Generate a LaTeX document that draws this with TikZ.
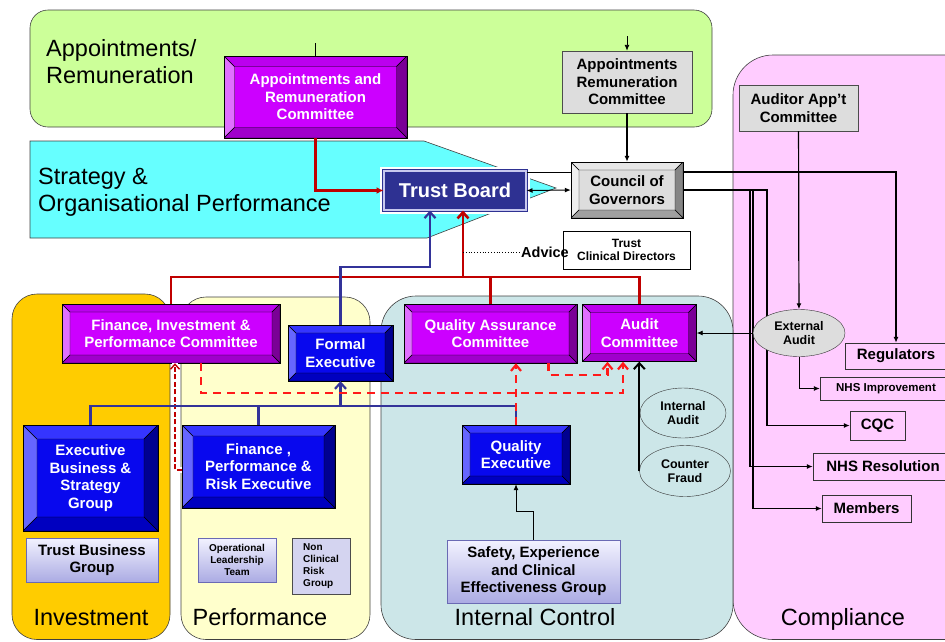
\documentclass[tikz,border=0pt]{standalone}
\usepackage{fontspec}
\setmainfont{Liberation Sans}
\usetikzlibrary{arrows.meta,positioning,shapes.geometric}
\definecolor{nhsgreen}{HTML}{CCFF99}
\definecolor{nhscyan}{HTML}{66FFFF}
\definecolor{nhspink}{HTML}{FFCCFF}
\definecolor{nhsorange}{HTML}{FFCC00}
\definecolor{nhscream}{HTML}{FFFFCC}
\definecolor{nhsteal}{HTML}{CCE6E8}
\definecolor{magface}{HTML}{CC00FF}
\definecolor{magleft}{HTML}{E070FF}
\definecolor{magtop}{HTML}{BB00EE}
\definecolor{magright}{HTML}{7A0096}
\definecolor{magbot}{HTML}{A000CC}
\definecolor{blface}{HTML}{0808EE}
\definecolor{blleft}{HTML}{6666FF}
\definecolor{bltop}{HTML}{3535FF}
\definecolor{blright}{HTML}{000090}
\definecolor{blbot}{HTML}{0000C0}
\definecolor{gyface}{HTML}{DDDDDD}
\definecolor{gyleft}{HTML}{EFEFEF}
\definecolor{gytop}{HTML}{E6E6E6}
\definecolor{gyright}{HTML}{858585}
\definecolor{gybot}{HTML}{A0A0A0}
\definecolor{tbnavy}{HTML}{2E3192}
\definecolor{tbring}{HTML}{C8C8EE}
\definecolor{lilactop}{HTML}{F2F2FF}
\definecolor{lilacbot}{HTML}{ABABE3}
\definecolor{lilacline}{HTML}{6A6AB4}
\definecolor{ncrfill}{HTML}{D4D4F0}
\definecolor{rline}{HTML}{C00000}
\definecolor{rdash}{HTML}{FF1A1A}
\definecolor{bline}{HTML}{333399}

\begin{document}
\begin{tikzpicture}[x=1pt,y=-1pt,
  every node/.style={inner sep=0pt,align=center,font=\bfseries\fontsize{15}{17.5}\selectfont},
  panel/.style={draw=black!75,line width=0.6pt},
  lbl/.style={font=\fontsize{23.5}{27}\selectfont},
  bev/.store in=\bevw, bev=8pt,
  bevel/.style n args={5}{draw=black,fill=#1,text=white,path picture={
      \coordinate (q1) at (path picture bounding box.south west);
      \coordinate (q2) at (path picture bounding box.north west);
      \coordinate (q3) at (path picture bounding box.north east);
      \coordinate (q4) at (path picture bounding box.south east);
      \coordinate (r1) at ([xshift=\bevw,yshift=\bevw]q1);
      \coordinate (r2) at ([xshift=\bevw,yshift=-\bevw]q2);
      \coordinate (r3) at ([xshift=-\bevw,yshift=-\bevw]q3);
      \coordinate (r4) at ([xshift=-\bevw,yshift=\bevw]q4);
      \filldraw[fill=#2,draw=black,line width=0.4pt] (q1) -- (q2) -- (r2) -- (r1) -- cycle;
      \filldraw[fill=#3,draw=black,line width=0.4pt] (q2) -- (q3) -- (r3) -- (r2) -- cycle;
      \filldraw[fill=#4,draw=black,line width=0.4pt] (q3) -- (q4) -- (r4) -- (r3) -- cycle;
      \filldraw[fill=#5,draw=black,line width=0.4pt] (q4) -- (q1) -- (r1) -- (r4) -- cycle;
    }},
  purplebox/.style={bevel={magface}{magleft}{magtop}{magright}{magbot}},
  bluebox/.style={bevel={blface}{blleft}{bltop}{blright}{blbot}},
  greybev/.style={bevel={gyface}{gyleft}{gytop}{gyright}{gybot},text=black},
  greybox/.style={draw=black!70,fill=gyface},
  lilac/.style={draw=lilacline,top color=lilactop,bottom color=lilacbot},
  pinkbox/.style={draw=black!80,fill=nhspink},
  oval/.style={ellipse,draw=black!80,font=\bfseries\fontsize{12.5}{14.5}\selectfont},
  sm/.style={font=\bfseries\fontsize{10}{12}\selectfont},
  arr/.style={-{Latex[length=6pt,width=5pt]},line width=0.9pt},
  govln/.style={-{Latex[length=6pt,width=5pt]},line width=1.2pt},
  redln/.style={draw=rline,line width=2.6pt},
  blueln/.style={draw=bline,line width=2.2pt},
  barb/.style={-{Straight Barb[length=6pt,width=11pt]}},
  reddsh/.style={draw=rdash,line width=2.2pt,dash pattern=on 8pt off 6pt,-{Straight Barb[length=6pt,width=10pt]}},
  reddbl/.style={draw=rline,line width=1.4pt,dash pattern=on 5pt off 2.5pt,
    preaction={draw=black!45,double=white,double distance=5.5pt,line width=0.5pt,solid,arrows=-},
    -{Straight Barb[length=5pt,width=9pt]}}
]
\useasboundingbox (0,0) rectangle (945,641);
\clip (0,0) rectangle (945,641);

% panels
\draw[panel,fill=nhsgreen,rounded corners=18pt] (30,10) rectangle (712,127);
\draw[panel,fill=nhscyan] (30,141) -- (424,141) -- (556,188) -- (427,238) -- (30,238) -- cycle;
\draw[panel,fill=nhspink,rounded corners=40pt] (733,55) rectangle (1000,639.5);
\draw[panel,fill=nhsorange,rounded corners=25pt] (12,294) rectangle (170,639.5);
\draw[panel,fill=nhscream,rounded corners=25pt] (181,297) rectangle (370,639.5);
\draw[panel,fill=nhsteal,rounded corners=35pt] (381,296) rectangle (733,639.5);

\node[lbl,anchor=west,align=left] (aplbl) at (46,62) {Appointments/\\Remuneration};
\node[lbl,anchor=west,align=left] (stlbl) at (38,192) {Strategy \&\\Organisational Performance};
\node[lbl,anchor=base] (invlbl) at (91,625) {Investment};
\node[lbl,anchor=base] (perflbl) at (260,625) {Performance};
\node[lbl,anchor=base] (iclbl) at (535,625) {Internal Control};
\node[lbl,anchor=base] (complbl) at (843,625) {Compliance};

% board level
\node[purplebox,bev=10.5pt,minimum width=183,minimum height=82] (arc) at (315.5,97) {Appointments and\\Remuneration\\Committee};
\node[greybox,minimum width=130,minimum height=62] (arcg) at (627,82) {Appointments\\Remuneration\\Committee};
\node[draw=tbnavy,line width=1pt,double=tbring,double distance=2pt,fill=tbnavy,preaction={draw=white,line width=8pt},
  minimum width=142,minimum height=39,text=white,font=\bfseries\fontsize{20}{24}\selectfont] (tb) at (455,190.5) {Trust Board};
\node[greybev,minimum width=112,minimum height=56] (cog) at (627,190) {Council of\\Governors};
\node[draw=black,fill=white,minimum width=127,minimum height=38,font=\bfseries\fontsize{12}{13.5}\selectfont] (tcd) at (626.5,250) {Trust\\Clinical Directors};
\node[anchor=west,font=\bfseries\fontsize{14.5}{16}\selectfont] (adv) at (521,252) {Advice};

% compliance
\node[greybox,minimum width=119,minimum height=46] (aac) at (798.5,108) {Auditor App’t\\Committee};
\node[pinkbox,minimum width=102,minimum height=26] (reg) at (896,356) {Regulators};
\node[pinkbox,minimum width=132,minimum height=23,font=\bfseries\fontsize{11.5}{13}\selectfont] (nhsi) at (886,388.5) {NHS Improvement};
\node[pinkbox,minimum width=55,minimum height=29] (cqc) at (877.5,425.5) {CQC};
\node[pinkbox,minimum width=140,minimum height=27] (nhsr) at (883,466.5) {NHS Resolution};
\node[pinkbox,minimum width=89,minimum height=27] (mem) at (866.5,508.5) {Members};

% committees and executives
\node[purplebox,minimum width=218,minimum height=59] (fipc) at (171,333.5) {Finance, Investment \&\\Performance Committee};
\node[bluebox,minimum width=105,minimum height=56] (fe) at (340.5,353) {Formal\\Executive};
\node[purplebox,minimum width=173,minimum height=59] (qac) at (490.5,333.5) {Quality Assurance\\Committee};
\node[purplebox,minimum width=114,minimum height=57] (ac) at (639.5,333) {Audit\\Committee};
\node[bluebox,bev=14pt,minimum width=135,minimum height=106] (ebsg) at (90.5,478) {Executive\\Business \&\\Strategy\\Group};
\node[lilac,minimum width=132,minimum height=44] (tbg) at (92,560) {Trust Business\\Group};
\node[bluebox,bev=11pt,minimum width=153,minimum height=83] (fpre) at (258.5,466.5) {Finance ,\\Performance \&\\Risk Executive};
\node[lilac,sm,minimum width=78,minimum height=44] (olt) at (237,560) {Operational\\Leadership\\Team};
\node[draw=black!70,fill=ncrfill,sm,align=left,minimum width=58,minimum height=56] (ncrg) at (321,566) {Non\\Clinical\\Risk\\Group};
\node[bluebox,minimum width=108,minimum height=59] (qe) at (516,454.5) {Quality\\Executive};
\node[lilac,minimum width=173,minimum height=63] (secg) at (533.5,571.5) {Safety, Experience\\and Clinical\\Effectiveness Group};
\node[oval,minimum width=86,minimum height=50] (ia) at (683,413) {Internal\\Audit};
\node[oval,minimum width=91,minimum height=51] (cf) at (685,471) {Counter\\Fraud};

% governors out to the regulators
\draw[govln] (cog.east) -- (767,190) |- (cqc.west);
\draw[govln] (cog.east) -- (750,190) |- (nhsr.west);
\draw[govln] (cog.east) -- (753,190) |- (mem.west);
\node[oval,fill=gyface,minimum width=92,minimum height=47] (ea) at (799,333) {External\\Audit};

% connectors
\coordinate (arctop) at (315.5,43);
\coordinate (arcgtop) at (627,36);
\draw[line width=0.9pt] (arctop) -- (arc.north);
\draw[arr] (arcgtop) -- (arcg.north);
\draw[govln] (arcg) -- (cog);
\draw[redln,-{Latex[length=7pt,width=7pt]}] (arc.south) |- (tb.west);
\draw[line width=1pt,{Latex[length=6pt,width=5pt]}-{Latex[length=6pt,width=5pt]}] (tb.east) -- (cog.west);
\draw[line width=1pt] (tb.east |- 0,172) -- (cog.west |- 0,172);
\draw[govln] (cog.east |- 0,172) -| (reg.north);
\draw[govln] (aac) -- (ea);
\draw[arr] (ea) -- (ac);
\draw[arr] (ea.south) |- (nhsi.west);

\coordinate (redbus) at (463,277);
\draw[redln] (fipc.north) |- (ac.north |- redbus) -- (ac.north);
\draw[redln] (qac.north) -- (qac.north |- redbus);
\draw[redln,barb] (redbus) -- (redbus |- tb.south);
\draw[dotted,line width=0.8pt] (redbus |- adv.west) -- (adv.west);

\draw[reddbl] (fpre.west |- 0,470) -| ([xshift=4pt]fipc.south);

\coordinate (bluebus) at (340.5,406);
\draw[blueln,barb] (fe.north) -- ++(0,-58) -| ([xshift=-25pt]tb.south);
\draw[blueln] (ebsg.north) |- (qe.north |- bluebus) -- (qe.north);
\draw[blueln] (fpre.north) -- (fpre.north |- bluebus);
\draw[blueln,barb] (bluebus) -- (fe.south);

\draw[reddsh] ([xshift=30pt]fipc.south) -- ++(0,30) -| ([xshift=-16.5pt]ac.south);
\draw[reddsh] (qe.north) -- (qe.north |- qac.south);
\draw[reddsh] ([xshift=58pt]qac.south) -- ++(0,12) -| ([xshift=-32pt]ac.south);

\draw[line width=2pt,-{Straight Barb[length=6pt,width=11pt]}] (cf.west) -- (cf.west |- ac.south);
\draw[arr] (secg.north) -- ++(0,-28) -| (qe.south);
\end{tikzpicture}
\end{document}
